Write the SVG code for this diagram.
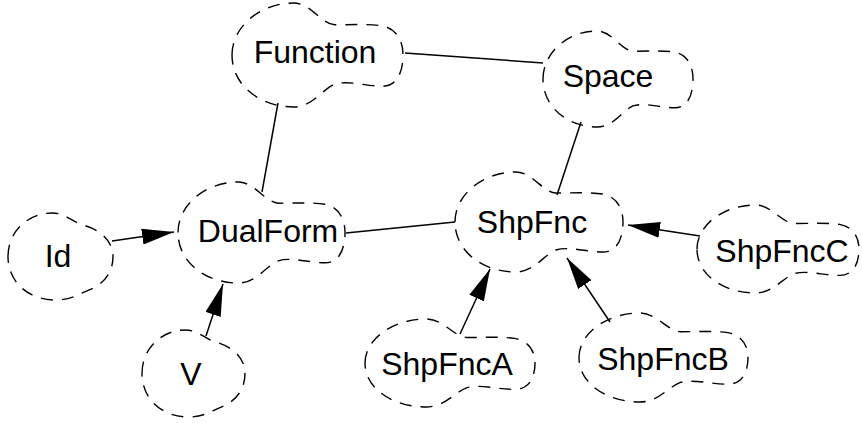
<svg xmlns="http://www.w3.org/2000/svg" width="862" height="423" viewBox="0 0 862 423">
  <style>
    .cloud { fill: none; stroke: #000; stroke-width: 1.4; stroke-dasharray: 12 9; }
    .label { font-family: "Liberation Sans", Arial, Helvetica, sans-serif; font-size: 32px; fill: #000; text-anchor: middle; }
    .edge { stroke: #000; stroke-width: 1.5; fill: none; }
    .arrow { marker-end: url(#head); }
  </style>
  <defs>
    <marker id="head" viewBox="0 0 32 16" refX="32" refY="8" markerWidth="32" markerHeight="16" markerUnits="userSpaceOnUse" orient="auto">
      <path d="M0,0 L32,8 L0,16 Z" fill="#000"/>
    </marker>
  </defs>

  <g id="edges">
    <line class="edge" x1="405" y1="53" x2="543" y2="63"/>
    <line class="edge" x1="278" y1="103" x2="262" y2="192"/>
    <line class="edge" x1="581" y1="122" x2="557" y2="195"/>
    <line class="edge" x1="346" y1="233" x2="455" y2="222"/>
    <line class="edge arrow" x1="112" y1="241" x2="174" y2="232"/>
    <line class="edge arrow" x1="206" y1="336" x2="223" y2="284"/>
    <line class="edge arrow" x1="460" y1="334" x2="490" y2="269"/>
    <line class="edge arrow" x1="610" y1="322" x2="567" y2="258"/>
    <line class="edge arrow" x1="700" y1="236" x2="628" y2="225"/>
  </g>

  <g id="node-Function">
    <path class="cloud" d="M232,55 C232,25.9 261.1,3 293.6,3 C310.7,3 320.9,23.8 334.6,24.8 C351.7,24.8 368.8,23.8 382.5,25.9 C397.9,29 403,42.5 403,55 C403,70.6 397.9,86.2 382.5,86.2 C365.4,86.2 348.3,80 334.6,84.1 C320.9,90.4 312.4,107 293.6,107 C261.1,107 232,86.2 232,55 Z"/>
    <text class="label" x="315" y="63">Function</text>
  </g>
  <g id="node-Space">
    <path class="cloud" d="M543,79 C543,52.1 568.5,31 597,31 C612,31 621,50.2 633,51.2 C648,51.2 663,50.2 675,52.1 C688.5,55 693,67.5 693,79 C693,93.4 688.5,107.8 675,107.8 C660,107.8 645,102 633,105.9 C621,111.6 613.5,127 597,127 C568.5,127 543,107.8 543,79 Z"/>
    <text class="label" x="608" y="87">Space</text>
  </g>
  <g id="node-DualForm">
    <path class="cloud" d="M178,232.5 C178,204.2 206.4,182 238.1,182 C254.8,182 264.8,202.2 278.2,203.2 C294.9,203.2 311.6,202.2 325,204.2 C340,207.3 345,220.4 345,232.5 C345,247.7 340,262.8 325,262.8 C308.3,262.8 291.6,256.7 278.2,260.8 C264.8,266.8 256.5,283 238.1,283 C206.4,283 178,262.8 178,232.5 Z"/>
    <text class="label" x="268" y="242">DualForm</text>
  </g>
  <g id="node-Id">
    <path class="cloud" d="M8,256.5 C8,230.4 29,213 52.1,213 C65.8,213 71,221.7 83.6,225.2 C97.3,228.7 113,239.1 113,256.5 C113,273.9 102.5,284.3 89.9,289.6 C79.4,293.9 71,300 55.3,300 C29,300 8,282.6 8,256.5 Z"/>
    <text class="label" x="58" y="267">Id</text>
  </g>
  <g id="node-ShpFnc">
    <path class="cloud" d="M455,222 C455,194 483.6,172 515.5,172 C532.3,172 542.4,192 555.8,193 C572.6,193 589.4,192 602.8,194 C618,197 623,210 623,222 C623,237 618,252 602.8,252 C586,252 569.2,246 555.8,250 C542.4,256 534,272 515.5,272 C483.6,272 455,252 455,222 Z"/>
    <text class="label" x="532" y="233">ShpFnc</text>
  </g>
  <g id="node-ShpFncC">
    <path class="cloud" d="M697,249 C697,224.4 724.5,205 755.3,205 C771.5,205 781.2,222.6 794.2,223.5 C810.4,223.5 826.6,222.6 839.6,224.4 C854.1,227 859,238.4 859,249 C859,262.2 854.1,275.4 839.6,275.4 C823.4,275.4 807.2,270.1 794.2,273.6 C781.2,278.9 773.1,293 755.3,293 C724.5,293 697,275.4 697,249 Z"/>
    <text class="label" x="782" y="262">ShpFncC</text>
  </g>
  <g id="node-V">
    <path class="cloud" d="M142,373.5 C142,347.4 162.6,330 185.3,330 C198.7,330 203.8,338.7 216.2,342.2 C229.6,345.7 245,356.1 245,373.5 C245,390.9 234.7,401.3 222.3,406.6 C212,410.9 203.8,417 188.4,417 C162.6,417 142,399.6 142,373.5 Z"/>
    <text class="label" x="191" y="385">V</text>
  </g>
  <g id="node-ShpFncA">
    <path class="cloud" d="M365,363 C365,338.4 393.9,319 426.2,319 C443.2,319 453.4,336.6 467,337.5 C484,337.5 501,336.6 514.6,338.4 C529.9,341 535,352.4 535,363 C535,376.2 529.9,389.4 514.6,389.4 C497.6,389.4 480.6,384.1 467,387.6 C453.4,392.9 444.9,407 426.2,407 C393.9,407 365,389.4 365,363 Z"/>
    <text class="label" x="447" y="375">ShpFncA</text>
  </g>
  <g id="node-ShpFncB">
    <path class="cloud" d="M579,357.5 C579,332.6 607.7,313 639.8,313 C656.7,313 666.9,330.8 680.4,331.7 C697.3,331.7 714.2,330.8 727.7,332.6 C742.9,335.3 748,346.8 748,357.5 C748,370.9 742.9,384.2 727.7,384.2 C710.8,384.2 693.9,378.9 680.4,382.4 C666.9,387.8 658.4,402 639.8,402 C607.7,402 579,384.2 579,357.5 Z"/>
    <text class="label" x="663" y="370">ShpFncB</text>
  </g>
</svg>
